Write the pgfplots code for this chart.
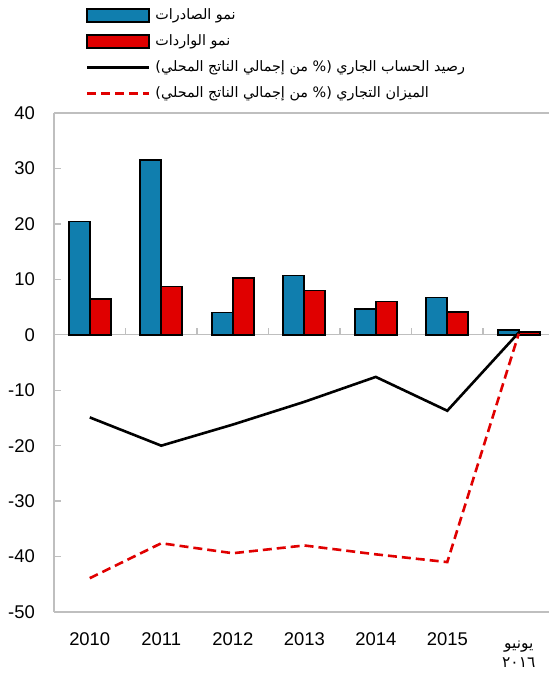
\documentclass[border=0pt]{standalone}
\usepackage{fontspec}
\setmainfont{Liberation Sans}
\newfontfamily\arabicfont[Script=Arabic]{DejaVu Sans}
\usepackage{pgfplots}
\pgfplotsset{compat=1.18}
\TeXXeTstate=1
\definecolor{expblue}{RGB}{16,126,174}
\definecolor{impred}{RGB}{224,0,0}
\definecolor{axgray}{RGB}{191,191,191}
\newcommand{\lastlab}{{\arabicfont\fontsize{15.5}{19}\selectfont\rule{0pt}{16bp}يونيو}\\[-1bp]{\arabicfont\fontsize{15.5}{19}\selectfont ٢٠١٦}}
\begin{document}
\begin{tikzpicture}
\begin{axis}[name=ax, at={(0,0)}, anchor=south west,
  scale only axis, width=494.8bp, height=499bp,
  xmin=-0.5, xmax=6.42, ymin=-50, ymax=40,
  axis x line*=box, axis y line*=left,
  axis line style={draw=axgray, line width=1.3bp},
  ytick={-50,-40,...,40},
  y tick style={draw=axgray, line width=1.3bp},
  tick align=inside, major tick length=7bp,
  xtick={0,...,6}, x tick style={draw=none},
  xticklabels={2010,2011,2012,2013,2014,2015,{\lastlab}},
  xticklabel style={anchor=north, inner sep=0pt, yshift=-20bp, align=center, font=\fontsize{18.5}{20}\selectfont},
  yticklabel style={anchor=east, inner sep=0pt, xshift=-19bp, font=\fontsize{18.5}{20}\selectfont},
  /pgf/number format/assume math mode=true,
  legend cell align=left,
  legend style={draw=none, fill=none, at={(0.064,1.218)}, anchor=north west,
    inner sep=0pt, row sep=4bp, column sep=3bp,
    nodes={inner sep=2bp, text height=13bp, text depth=5bp, font=\arabicfont\fontsize{14.4}{16}\selectfont}},
  clip=false,
]
\draw[axgray, line width=1.3bp] (axis cs:-0.5,0) -- (axis cs:6.42,0);
\pgfplotsinvokeforeach{0.5,1.5,2.5,3.5,4.5,5.5}{\draw[axgray, line width=1.3bp] (axis cs:#1,0) -- (axis cs:#1,1.15);}
\addplot[ybar, bar width=21bp, bar shift=-10.5bp, fill=expblue, draw=black, line width=1.6bp,
  legend image code/.code={\draw[fill=expblue, draw=black, line width=1.6bp] (0bp,-6.5bp) rectangle (62bp,6.5bp);}]
  coordinates {(0,20.4) (1,31.5) (2,4.0) (3,10.7) (4,4.7) (5,6.7) (6,0.9)};
\addlegendentry{\beginR نمو الصادرات\endR}
\addplot[ybar, bar width=21bp, bar shift=10.5bp, fill=impred, draw=black, line width=1.6bp,
  legend image code/.code={\draw[fill=impred, draw=black, line width=1.6bp] (0bp,-6.5bp) rectangle (62bp,6.5bp);}]
  coordinates {(0,6.4) (1,8.7) (2,10.2) (3,8.0) (4,6.0) (5,4.1) (6,0.5)};
\addlegendentry{\beginR نمو الواردات\endR}
\addplot[sharp plot, black, line width=2.6bp, mark=none,
  legend image code/.code={\draw[black, line width=2.6bp] (0bp,0bp) -- (62bp,0bp);}]
  coordinates {(0,-14.9) (1,-20.0) (2,-16.2) (3,-12.1) (4,-7.6) (5,-13.7) (6,0.4)};
\addlegendentry{\beginR رصيد الحساب الجاري (\% من إجمالي الناتج المحلي)\endR}
\addplot[sharp plot, impred, line width=2.6bp, mark=none, dash pattern=on 9bp off 5bp,
  legend image code/.code={\draw[impred, line width=2.6bp, dash pattern=on 9bp off 5bp] (0bp,0bp) -- (62bp,0bp);}]
  coordinates {(0,-43.9) (1,-37.6) (2,-39.4) (3,-38.0) (4,-39.6) (5,-41.0) (6,0.2)};
\addlegendentry{\beginR الميزان التجاري (\% من إجمالي الناتج المحلي)\endR}
\end{axis}
\pgfresetboundingbox
\path[use as bounding box] ([xshift=-54bp,yshift=-65bp]ax.south west) rectangle ([xshift=0.2bp,yshift=113bp]ax.north east);
\end{tikzpicture}
\end{document}
